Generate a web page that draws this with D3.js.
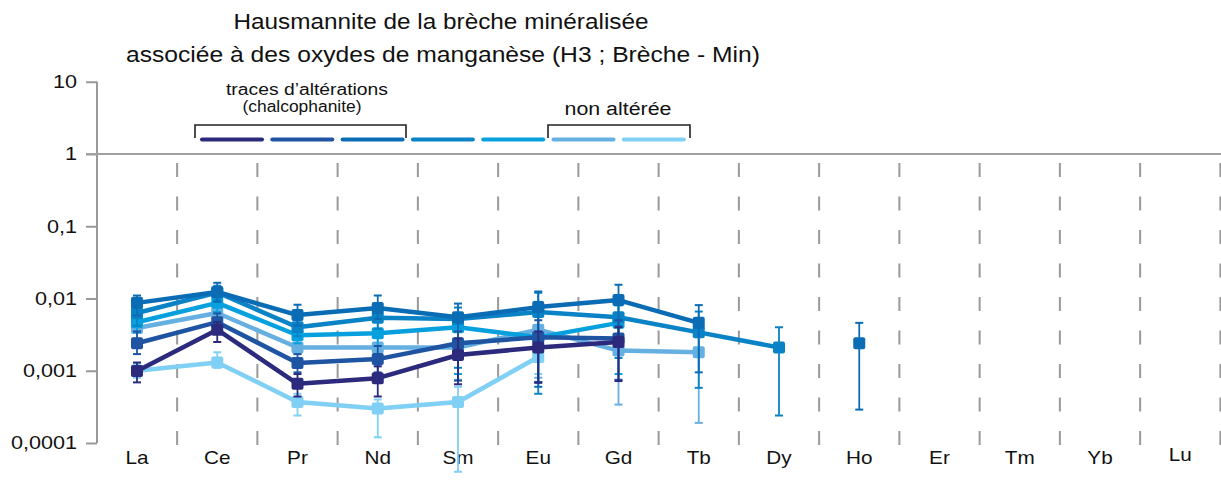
<!DOCTYPE html>
<html>
<head>
<meta charset="utf-8">
<script src="https://cdn.jsdelivr.net/npm/d3@7/dist/d3.min.js"></script>
<style>
  html, body { margin: 0; padding: 0; background: #fff; }
  svg { display: block; font-family: "Liberation Sans", Arial, sans-serif; }
</style>
</head>
<body>
<svg id="chart" width="1221" height="497"></svg>
<script>
// Rare-earth elements along the x axis
const elements = ["La", "Ce", "Pr", "Nd", "Sm", "Eu", "Gd", "Tb", "Dy", "Ho", "Er", "Tm", "Yb", "Lu"];

// y axis decades and their labels
const yTicks = [10, 1, 0.1, 0.01, 0.001, 0.0001];
const yTickLabels = ["10", "1", "0,1", "0,01", "0,001", "0,0001"];

// Normalised concentrations per analysis (null = not measured)
const seriesA = [0.00099, 0.0037, 0.00066, 0.00079, 0.00165, 0.0021, 0.0025, null, null, null, null, null, null, null];
const seriesB = [0.0024, 0.0047, 0.00128, 0.00145, 0.0024, 0.0029, 0.0028, null, null, null, null, null, null, null];
const seriesC = [0.0087, 0.0123, 0.0059, 0.0074, 0.0055, 0.0076, 0.0095, 0.0046, null, 0.0024, null, null, null, null];
const seriesD = [0.0063, 0.0121, 0.0040, 0.0054, 0.0052, 0.0065, 0.0055, 0.0034, 0.0021, null, null, null, null, null];
const seriesE = [0.0047, 0.0087, 0.0031, 0.0033, 0.0040, 0.0029, 0.0046, null, null, null, null, null, null, null];
const seriesF = [0.0039, 0.0063, 0.0021, 0.0021, 0.0021, 0.0037, 0.0019, 0.0018, null, null, null, null, null, null];
const seriesG = [0.0010, 0.0013, 0.00037, 0.00030, 0.00037, 0.00155, null, null, null, null, null, null, null, null];

// Error bar bounds (high / low) per analysis
const errHiA = [0.0013, 0.0047, 0.0009, 0.00115, 0.0028, 0.0035, 0.0040, null, null, null, null, null, null, null];
const errLoA = [0.00069, 0.0025, 0.00044, 0.00044, 0.00065, 0.00068, 0.00072, null, null, null, null, null, null, null];
const errHiB = [0.0035, 0.0062, 0.0017, 0.0022, 0.0035, 0.0050, 0.0050, null, null, null, null, null, null, null];
const errLoB = [0.0017, 0.0035, 0.00095, 0.00095, 0.00073, 0.0007, 0.00075, null, null, null, null, null, null, null];
const errHiC = [0.0110, 0.0165, 0.0082, 0.0110, 0.0085, 0.0125, 0.0155, 0.0081, null, 0.0046, null, null, null, null];
const errLoC = [0.0058, 0.0090, 0.0042, 0.0052, 0.0019, 0.0006, 0.0042, 0.00095, null, 0.00029, null, null, null, null];
const errHiD = [0.0090, 0.0150, 0.0058, 0.0075, 0.0075, 0.0120, 0.0110, 0.0066, 0.0040, null, null, null, null, null];
const errLoD = [0.0042, 0.0095, 0.0030, 0.0038, 0.0011, 0.00048, 0.0015, 0.00058, 0.00024, null, null, null, null, null];
const errHiE = [0.0070, 0.0110, 0.0042, 0.0048, 0.0062, 0.0090, 0.0080, null, null, null, null, null, null, null];
const errLoE = [0.0034, 0.0065, 0.0024, 0.0022, 0.0009, 0.0007, 0.0009, null, null, null, null, null, null, null];
const errHiF = [0.0055, 0.0085, 0.0030, 0.0032, 0.0040, 0.0060, 0.0040, 0.0030, null, null, null, null, null, null];
const errLoF = [0.0028, 0.0045, 0.0017, 0.0012, 0.00075, 0.0008, 0.00034, 0.00019, null, null, null, null, null, null];
const errHiG = [0.00125, 0.0018, 0.00048, 0.00040, 0.0006, 0.0028, null, null, null, null, null, null, null, null];
const errLoG = [0.0008, 0.0011, 0.00024, 0.00012, 0.00004, 0.0009, null, null, null, null, null, null, null, null];

const seriesColors = ["#2b2a7c", "#1f54a2", "#0a6cb5", "#0982c6", "#07a0de", "#66afe1", "#7fd0f4"];

const series = [
  { values: seriesA, hi: errHiA, lo: errLoA },
  { values: seriesB, hi: errHiB, lo: errLoB },
  { values: seriesC, hi: errHiC, lo: errLoC },
  { values: seriesD, hi: errHiD, lo: errLoD },
  { values: seriesE, hi: errHiE, lo: errLoE },
  { values: seriesF, hi: errHiF, lo: errLoF },
  { values: seriesG, hi: errHiG, lo: errLoG }
].map((s, i) => Object.assign(s, { color: seriesColors[i] }));

const svg = d3.select("#chart");

const x = d3.scalePoint().domain(elements).range([137, 137 + 13 * 80.25]);
const y = d3.scaleLog().domain([0.0001, 10]).range([443, 81.75]);
const step = x.step();

// Widen text horizontally by a factor (the layout uses slightly wide lettering)
function widen(sel, factor) {
  sel.each(function () {
    const w = this.getComputedTextLength();
    d3.select(this).attr("textLength", w * factor).attr("lengthAdjust", "spacingAndGlyphs");
  });
}

// Titles
const title = svg.append("g").attr("fill", "#111").attr("text-anchor", "middle");
title.append("text").attr("x", 441).attr("y", 29).attr("font-size", 22)
  .attr("textLength", 415).attr("lengthAdjust", "spacingAndGlyphs")
  .text("Hausmannite de la brèche minéralisée");
title.append("text").attr("x", 443).attr("y", 62).attr("font-size", 22)
  .attr("textLength", 634).attr("lengthAdjust", "spacingAndGlyphs")
  .text("associée à des oxydes de manganèse (H3 ; Brèche - Min)");

// Dashed separators between elements
svg.append("g")
  .selectAll("line")
  .data(elements)
  .join("line")
  .attr("x1", d => x(d) + step / 2)
  .attr("x2", d => x(d) + step / 2)
  .attr("y1", 163)
  .attr("y2", 446)
  .attr("stroke", "#9a9a9a")
  .attr("stroke-width", 2)
  .attr("stroke-dasharray", "14,19.5");

// y axis
const yAxis = d3.axisLeft(y).tickValues(yTicks).tickFormat((d, i) => yTickLabels[i]).tickSize(11).tickPadding(9);
const yg = svg.append("g").attr("transform", "translate(97,0)").call(yAxis);
yg.select(".domain").attr("stroke", "#999").attr("stroke-width", 2).attr("d", `M0,${y(10)}V${y(0.0001)}`);
yg.selectAll(".tick line").attr("stroke", "#999").attr("stroke-width", 2);
yg.selectAll(".tick text").attr("font-size", 18).attr("fill", "#111")
  .attr("font-family", "Liberation Sans, Arial, sans-serif")
  .call(widen, 1.2);

// Reference line at 1
svg.append("line")
  .attr("x1", 86).attr("x2", 1221)
  .attr("y1", y(1)).attr("y2", y(1))
  .attr("stroke", "#a0a0a0").attr("stroke-width", 2);

// x labels
svg.append("g")
  .selectAll("text")
  .data(elements)
  .join("text")
  .attr("x", d => x(d))
  .attr("y", d => d === "Lu" ? 461 : 464)
  .attr("text-anchor", "middle")
  .attr("font-size", 18.5)
  .attr("fill", "#111")
  .text(d => d)
  .call(widen, 1.12);

// Data: error bars, lines, markers (lightest drawn first)
const plot = svg.append("g");
const line = d3.line()
  .defined(d => d.v != null)
  .x(d => x(d.el))
  .y(d => y(d.v));

series.slice().reverse().forEach(s => {
  const pts = elements.map((el, i) => ({ el, v: s.values[i], hi: s.hi[i], lo: s.lo[i] }));
  const g = plot.append("g");
  const eb = pts.filter(p => p.v != null && p.hi != null);
  g.selectAll(".err").data(eb).join("line")
    .attr("x1", p => x(p.el)).attr("x2", p => x(p.el))
    .attr("y1", p => y(p.hi)).attr("y2", p => y(p.lo))
    .attr("stroke", s.color).attr("stroke-width", 1.8);
  g.selectAll(".capH").data(eb).join("line")
    .attr("x1", p => x(p.el) - 4).attr("x2", p => x(p.el) + 4)
    .attr("y1", p => y(p.hi)).attr("y2", p => y(p.hi))
    .attr("stroke", s.color).attr("stroke-width", 2);
  g.selectAll(".capL").data(eb).join("line")
    .attr("x1", p => x(p.el) - 4).attr("x2", p => x(p.el) + 4)
    .attr("y1", p => y(p.lo)).attr("y2", p => y(p.lo))
    .attr("stroke", s.color).attr("stroke-width", 2);
  g.append("path").datum(pts)
    .attr("d", line)
    .attr("fill", "none")
    .attr("stroke", s.color)
    .attr("stroke-width", 4.5)
    .attr("stroke-linejoin", "round");
  g.selectAll("rect").data(pts.filter(p => p.v != null)).join("rect")
    .attr("x", p => x(p.el) - 6).attr("y", p => y(p.v) - 6)
    .attr("width", 12).attr("height", 12).attr("rx", 2)
    .attr("fill", s.color);
});

// Legend
const legend = svg.append("g");
legend.selectAll("line")
  .data(series)
  .join("line")
  .attr("x1", (d, i) => 202 + i * 70.3)
  .attr("x2", (d, i) => 262 + i * 70.3)
  .attr("y1", 139.5).attr("y2", 139.5)
  .attr("stroke", d => d.color)
  .attr("stroke-width", 4)
  .attr("stroke-linecap", "round");

function bracket(x0, x1) {
  legend.append("path")
    .attr("d", `M${x0},138V125H${x1}V138`)
    .attr("fill", "none").attr("stroke", "#222").attr("stroke-width", 1.6);
}
bracket(195, 406);
bracket(548, 690);

legend.append("text").attr("x", 307).attr("y", 95).attr("text-anchor", "middle")
  .attr("font-size", 16).attr("fill", "#111")
  .attr("textLength", 162).attr("lengthAdjust", "spacingAndGlyphs")
  .text("traces d’altérations");
legend.append("text").attr("x", 302).attr("y", 112).attr("text-anchor", "middle")
  .attr("font-size", 16).attr("fill", "#111")
  .attr("textLength", 119).attr("lengthAdjust", "spacingAndGlyphs")
  .text("(chalcophanite)");
legend.append("text").attr("x", 618).attr("y", 115).attr("text-anchor", "middle")
  .attr("font-size", 18).attr("fill", "#111")
  .attr("textLength", 107).attr("lengthAdjust", "spacingAndGlyphs")
  .text("non altérée");
</script>
</body>
</html>
